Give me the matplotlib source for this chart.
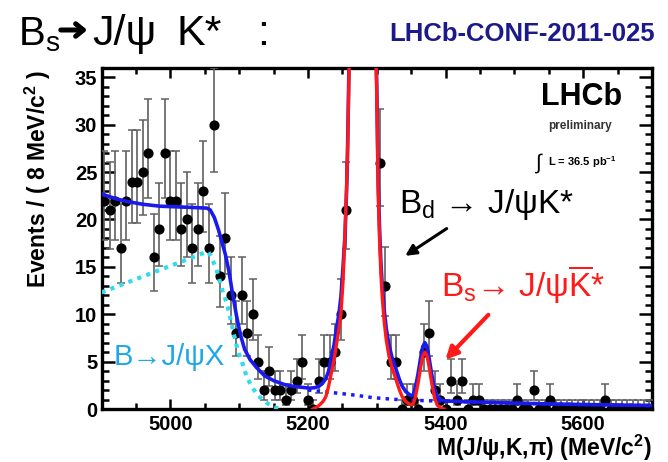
import numpy as np
import matplotlib
matplotlib.use("Agg")
import matplotlib.pyplot as plt
from matplotlib.ticker import MultipleLocator

plt.rcParams['font.family'] = ['Liberation Sans', 'DejaVu Sans']
plt.rcParams['mathtext.fontset'] = 'custom'
plt.rcParams['mathtext.rm'] = 'Liberation Sans'
plt.rcParams['mathtext.it'] = 'Liberation Sans:italic'
plt.rcParams['mathtext.bf'] = 'Liberation Sans:bold'

# 8 MeV bins from 4900 to 5700
bin_lo = 4900
bin_w = 8
counts = [22, 21, 22, 17, 22, 24, 24, 25, 27, 16,
          19, 27, 22, 22, 19, 20, 17, 19, 23, 17,
          30, 14, 18, 12, 8, 12, 8, 10, 5, 2,
          4, 2, 2, 1, 2, 3, 5, 1, 0, 3,
          5, 5, 6, 10, 21, 58, 120, 165, 140, 75,
          26, 13, 5, 5, 0, 1, 1, 0, 6, 8,
          2, 1, 0, 3, 1, 3, 0, 1, 1, 0,
          0, 0, 0, 0, 0, 1, 0, 0, 2, 0,
          0, 1, 0, 0, 0, 0, 0, 0, 0, 0,
          0, 1, 0, 0, 0, 0, 0, 0, 0, 0]

# total fit (blue solid)
total_m = [4900, 4920, 4937, 4960, 4985, 5020, 5053, 5058, 5064, 5070,
           5075, 5080, 5085, 5089, 5096, 5102, 5108, 5116, 5125, 5137,
           5150, 5165, 5178, 5190, 5202, 5210, 5216, 5222, 5226, 5230,
           5234, 5238, 5241, 5245, 5248, 5251, 5254, 5257, 5261, 5266,
           5270, 5275, 5280, 5285, 5290, 5294, 5298, 5300, 5302, 5304,
           5306, 5308, 5311, 5314, 5318, 5322, 5328, 5333, 5337, 5342,
           5347, 5350, 5353, 5356, 5360, 5364, 5367, 5370, 5373, 5376,
           5380, 5384, 5388, 5394, 5400, 5450, 5500, 5550, 5600, 5650, 5700]
total_v = [22.7, 22.2, 21.9, 21.6, 21.4, 21.3, 21.2, 21.0, 20.2, 18.9,
           17.6, 16.3, 14.6, 12.8, 9.9, 7.8, 6.3, 5.2, 4.4, 3.5,
           3.0, 2.6, 2.4, 2.3, 2.2, 2.25, 2.4, 2.8, 3.2, 4.0,
           5.4, 6.8, 8.3, 10.0, 11.9, 15.0, 18.5, 25.0, 42.0, 72.0,
           106.0, 141.0, 151.0, 141.0, 106.0, 71.0, 41.0, 34.2, 24.2, 19.2,
           15.5, 13.0, 10.3, 8.4, 6.7, 5.5, 4.2, 3.1, 2.4, 1.85,
           1.55, 1.4, 1.5, 2.2, 3.7, 5.5, 6.6, 7.0, 6.6, 5.4,
           3.6, 2.1, 1.3, 0.95, 0.85, 0.72, 0.62, 0.54, 0.47, 0.42, 0.37]

# signal only (red)
sig_m = [5207, 5215, 5222, 5226, 5230, 5234, 5238, 5241, 5245, 5248,
         5251, 5253, 5256, 5258, 5262, 5266, 5270, 5275, 5280, 5285,
         5290, 5294, 5298, 5300, 5302, 5304, 5306, 5308, 5311, 5314,
         5318, 5322, 5328, 5333, 5337, 5342, 5347, 5350, 5353, 5356,
         5360, 5364, 5367, 5370, 5373, 5376, 5380, 5384, 5388, 5394, 5398]
sig_v = [0.0, 0.3, 0.8, 1.3, 2.4, 3.8, 5.2, 6.6, 8.4, 10.1,
         13.5, 17.0, 23.0, 28.5, 45.0, 70.0, 105.0, 140.0, 150.0, 140.0,
         105.0, 70.0, 40.0, 33.0, 23.0, 18.0, 14.3, 11.8, 9.1, 7.2,
         5.5, 4.4, 3.1, 2.0, 1.3, 0.8, 0.55, 0.45, 0.55, 1.2,
         2.7, 4.5, 5.6, 6.0, 5.6, 4.5, 2.7, 1.2, 0.4, 0.05, 0.0]

# combinatorial background (blue dotted)
comb_m = [5200, 5226, 5246, 5270, 5294, 5320, 5342, 5370, 5400, 5450,
          5500, 5550, 5600, 5650, 5700]
comb_v = [2.0, 1.8, 1.65, 1.45, 1.2, 1.05, 0.95, 0.88, 0.82, 0.72,
          0.62, 0.54, 0.47, 0.42, 0.37]

# partially reconstructed B -> J/psi X (cyan dotted)
part_m = [4900, 4950, 5000, 5050, 5055, 5060, 5067, 5077, 5082, 5089,
          5092, 5099, 5104, 5111, 5116, 5125, 5131, 5142, 5150, 5160]
part_v = [12.3, 13.7, 15.1, 16.5, 16.6, 16.0, 14.7, 12.2, 11.2, 9.0,
          8.0, 5.9, 5.0, 3.4, 2.7, 1.6, 1.2, 0.55, 0.2, 0.0]

counts = np.array(counts, dtype=float)
centers = bin_lo + bin_w * (np.arange(len(counts)) + 0.5)
# approximate Poisson intervals
err_up = 0.5 + np.sqrt(counts + 0.25)
err_dn = -0.5 + np.sqrt(counts + 0.25)

fig = plt.figure(figsize=(6.68, 4.62), dpi=100)
ax = fig.add_axes([0.152, 0.1147, 0.824, 0.7385])

ax.errorbar(centers, counts, yerr=[err_dn, err_up], fmt='o', color='black',
            ms=6.3, ecolor='#606060', elinewidth=1.2, capsize=2.6,
            capthick=1.1, zorder=3)
ax.plot(part_m, part_v, color='#30dcec', lw=3, ls=(0, (1, 1.3)), zorder=4)
ax.plot(comb_m, comb_v, color='#1a1aff', lw=2.5, ls=(0, (1, 1.5)), zorder=4)
ax.plot(total_m, total_v, color='#1a1aee', lw=2.6, zorder=5)
ax.plot(sig_m, sig_v, color='#ff1a1a', lw=2.4, zorder=6)

ax.set_xlim(4900, 5700)
ax.set_ylim(0, 36)
ax.xaxis.set_major_locator(MultipleLocator(200))
ax.xaxis.set_minor_locator(MultipleLocator(50))
ax.yaxis.set_major_locator(MultipleLocator(5))
ax.yaxis.set_minor_locator(MultipleLocator(1))
ax.tick_params(axis='both', which='both', direction='in', top=True,
               right=True, width=1.8, labelsize=14.5)
ax.tick_params(axis='y', which='major', length=9.5, pad=3)
ax.tick_params(axis='y', which='minor', length=5)
ax.tick_params(axis='x', which='major', length=7.5, pad=4)
ax.tick_params(axis='x', which='minor', length=4)
for lab in ax.get_xticklabels() + ax.get_yticklabels():
    lab.set_fontweight('bold')
for sp in ax.spines.values():
    sp.set_linewidth(2.4)

# axis titles
fig.text(38 / 668, 1 - 70 / 462, r'Events / ( 8 MeV/c$^\mathbf{2}$ )',
         rotation=90, ha='center', va='top', fontsize=16.5, fontweight='bold')
fig.text(652 / 668, 1 - 456 / 462, r'M(J/ψ,K,π) (MeV/c$^\mathbf{2}$)',
         ha='right', va='baseline', fontsize=16.5, fontweight='bold')

# header
fig.text(18 / 668, 1 - 45 / 462, r'B$_\mathrm{s}$',
         ha='left', va='baseline', fontsize=29)
ax.annotate('', xy=(90, 462 - 30), xytext=(58, 462 - 30),
            xycoords='figure pixels', textcoords='figure pixels',
            arrowprops=dict(arrowstyle='->,head_length=0.55,head_width=0.45',
                            color='black', lw=3.6))
fig.text(92 / 668, 1 - 45 / 462, 'J/ψ', ha='left', va='baseline',
         fontsize=31)
fig.text(176 / 668, 1 - 45 / 462, 'K*', ha='left', va='baseline',
         fontsize=31)
fig.text(257 / 668, 1 - 45 / 462, ':', ha='left', va='baseline',
         fontsize=31)
fig.text(655 / 668, 1 - 41 / 462, 'LHCb-CONF-2011-025', ha='right',
         va='baseline', fontsize=18.5, fontweight='bold', color='#1c1a8a')

# labels in the plot
ax.text(5598, 32.1, 'LHCb', ha='center', va='baseline', fontsize=22,
        fontweight='bold')
ax.text(5595, 29.9, 'preliminary', ha='center', va='center', fontsize=8.5,
        fontweight='bold', color='#333333')
ax.text(5535, 26.0, r'$\int$', ha='center', va='center', fontsize=15)
ax.text(5549, 26.0, r'L = 36.5 pb$^{\mathbf{-1}}$', ha='left', va='center',
        fontsize=8, fontweight='bold')
ax.text(5332, 20.7, r'B$_\mathrm{d}$ → J/ψK*', ha='left', va='baseline',
        fontsize=24)
ax.text(5393, 11.8, r'B$_\mathrm{s}$→ J/ψ$\overline{\mathrm{K}}$*',
        ha='left', va='baseline', fontsize=24, color='#ff1a1a')
ax.text(4918, 4.65, 'B→J/ψX', ha='left', va='baseline', fontsize=21,
        color='#1ea8e8')

ax.annotate('', xy=(5338, 16.0), xytext=(5405, 19.2),
            arrowprops=dict(arrowstyle='-|>', color='black', lw=2.2,
                            mutation_scale=16))
ax.annotate('', xy=(5397, 5.0), xytext=(5465, 10.15),
            arrowprops=dict(arrowstyle='-|>', color='#ff1a1a', lw=3,
                            mutation_scale=18))

fig.savefig('out.png', dpi=100)
